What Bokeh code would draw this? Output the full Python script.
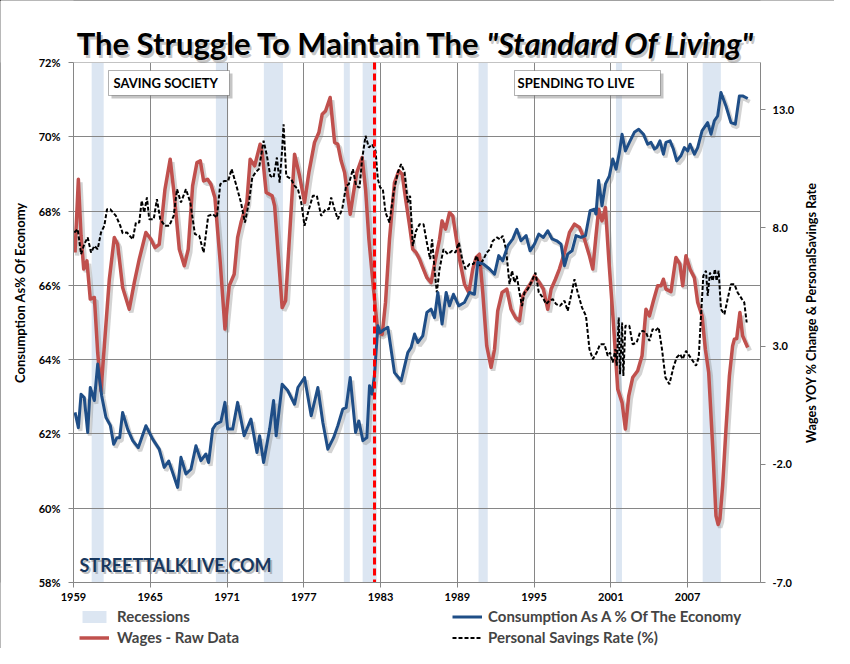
import math
from bokeh.plotting import figure
from bokeh.models import (Range1d, LinearAxis, FixedTicker, PrintfTickFormatter, Label,
                          BoxAnnotation, Legend, LegendItem, ColumnDataSource)
from bokeh.transform import dodge
from bokeh.embed import file_html
from bokeh.resources import INLINE

# ---------------- data ----------------
cons_year = [1959.12, 1959.38, 1959.59, 1959.84, 1960.11, 1960.31, 1960.63, 1960.89, 1961.20, 1961.54,
             1961.88, 1962.14, 1962.40, 1962.61, 1962.84, 1963.23, 1963.63, 1964.06, 1964.66, 1965.19,
             1965.70, 1966.09, 1966.44, 1966.75, 1967.14, 1967.40, 1967.79, 1968.18, 1968.57, 1968.96,
             1969.35, 1969.56, 1969.88, 1970.13, 1970.52, 1970.84, 1971.05, 1971.44, 1971.83, 1972.34,
             1972.87, 1973.34, 1973.55, 1973.86, 1974.33, 1974.64, 1974.84, 1975.31, 1975.76, 1976.28,
             1976.54, 1977.06, 1977.58, 1978.10, 1978.49, 1978.88, 1979.33, 1979.66, 1980.05, 1980.31,
             1980.63, 1981.05, 1981.30, 1981.62, 1981.93, 1982.14, 1982.34, 1982.53, 1982.79, 1982.97,
             1983.31, 1983.57, 1984.09, 1984.61, 1985.13, 1985.39, 1985.66, 1985.91, 1986.30, 1986.62,
             1986.95, 1987.22, 1987.48, 1987.81, 1988.13, 1988.39, 1988.70, 1989.12, 1989.56, 1989.95,
             1990.34, 1990.60, 1991.05, 1991.52, 1991.91, 1992.24, 1992.55, 1992.95, 1993.34, 1993.65,
             1993.98, 1994.38, 1994.69, 1995.03, 1995.37, 1995.73, 1996.07, 1996.41, 1996.77, 1997.11,
             1997.38, 1997.63, 1997.97, 1998.28, 1998.67, 1999.02, 1999.38, 1999.72, 1999.84, 2000.05,
             2000.31, 2000.58, 2000.89, 2001.15, 2001.41, 2001.67, 2001.88, 2002.14, 2002.45, 2002.84,
             2003.18, 2003.55, 2003.88, 2004.14, 2004.41, 2004.59, 2004.84, 2005.11, 2005.31, 2005.63,
             2005.89, 2006.15, 2006.48, 2006.75, 2007.01, 2007.19, 2007.53, 2007.79, 2008.13, 2008.57,
             2008.83, 2009.09, 2009.35, 2009.61, 2010.00, 2010.39, 2010.73, 2011.05, 2011.30, 2011.70]
cons_pct = [62.58, 62.17, 63.07, 62.98, 62.04, 63.25, 62.90, 63.88, 63.03, 62.44,
            62.23, 61.72, 61.90, 61.90, 62.58, 62.13, 61.82, 61.63, 62.22, 61.86,
            61.59, 61.10, 61.27, 60.96, 60.56, 61.37, 60.92, 61.05, 61.68, 61.28,
            61.46, 61.23, 62.13, 62.26, 62.33, 62.85, 62.13, 62.13, 62.85, 61.95,
            62.40, 61.50, 61.95, 61.23, 62.13, 62.90, 61.95, 63.34, 63.16, 62.80,
            63.25, 63.52, 62.49, 63.25, 62.31, 61.59, 61.90, 62.22, 62.67, 62.71,
            63.52, 62.04, 62.35, 61.82, 61.90, 63.30, 63.07, 63.60, 64.91, 64.73,
            64.82, 64.87, 63.65, 63.43, 64.19, 64.33, 64.69, 64.46, 64.64, 65.27,
            65.36, 65.13, 65.81, 64.96, 65.81, 65.45, 65.76, 65.45, 65.54, 65.81,
            65.76, 66.62, 66.57, 66.44, 66.30, 66.80, 66.66, 67.07, 67.25, 67.51,
            67.20, 67.34, 66.93, 67.11, 67.38, 67.29, 67.47, 67.25, 67.20, 67.11,
            66.53, 66.84, 66.93, 67.34, 67.29, 67.34, 68.01, 68.05, 67.92, 68.82,
            68.14, 68.73, 68.95, 69.40, 69.13, 69.58, 70.07, 69.62, 69.85, 70.12,
            70.20, 70.07, 69.80, 69.85, 69.67, 69.71, 69.89, 69.53, 69.85, 69.89,
            69.67, 69.35, 69.49, 69.71, 69.62, 69.80, 69.53, 69.71, 70.16, 70.38,
            70.07, 70.43, 70.56, 71.19, 70.83, 70.38, 70.34, 71.10, 71.10, 71.03]

wage_year = [1959.12, 1959.38, 1959.59, 1959.80, 1960.05, 1960.31, 1960.63, 1960.89, 1961.15, 1961.41,
             1961.80, 1962.19, 1962.45, 1962.84, 1963.36, 1963.75, 1964.14, 1964.66, 1965.05, 1965.37,
             1965.70, 1966.15, 1966.56, 1966.88, 1967.27, 1967.66, 1967.97, 1968.31, 1968.65, 1968.91,
             1969.17, 1969.48, 1969.74, 1970.05, 1970.47, 1970.84, 1971.17, 1971.56, 1971.83, 1972.09,
             1972.55, 1972.81, 1973.16, 1973.59, 1973.75, 1974.06, 1974.53, 1974.72, 1975.05, 1975.31,
             1975.58, 1975.84, 1976.28, 1976.67, 1977.06, 1977.40, 1977.84, 1978.18, 1978.44, 1978.70,
             1979.06, 1979.41, 1979.66, 1979.92, 1980.19, 1980.63, 1980.89, 1981.15, 1981.56, 1981.83,
             1982.09, 1982.45, 1982.79, 1983.13, 1983.39, 1983.70, 1984.09, 1984.43, 1984.69, 1985.00,
             1985.27, 1985.52, 1985.78, 1986.05, 1986.25, 1986.62, 1986.95, 1987.22, 1987.61, 1987.81,
             1988.08, 1988.39, 1988.65, 1988.91, 1989.22, 1989.56, 1989.90, 1990.21, 1990.47, 1990.73,
             1990.99, 1991.30, 1991.64, 1991.91, 1992.16, 1992.50, 1992.87, 1993.20, 1993.55, 1993.86,
             1994.12, 1994.43, 1994.77, 1995.03, 1995.42, 1995.73, 1996.07, 1996.33, 1996.67, 1996.98,
             1997.38, 1997.77, 1998.16, 1998.55, 1998.94, 1999.33, 1999.59, 1999.84, 2000.05, 2000.31,
             2000.58, 2000.84, 2001.20, 2001.54, 2001.88, 2002.14, 2002.40, 2002.71, 2003.10, 2003.44,
             2003.75, 2004.02, 2004.33, 2004.66, 2004.92, 2005.11, 2005.31, 2005.70, 2006.09, 2006.40,
             2006.62, 2006.87, 2007.19, 2007.53, 2007.79, 2008.13, 2008.39, 2008.65, 2008.96, 2009.22,
             2009.39, 2009.53, 2009.74, 2010.00, 2010.27, 2010.52, 2010.66, 2010.84, 2011.09, 2011.30,
             2011.70]
wage_yoy = [6.96, 10.06, 7.67, 6.26, 6.61, 4.99, 5.06, 2.73, 1.11, 3.01,
            5.83, 7.60, 7.31, 5.48, 4.56, 5.69, 6.68, 7.81, 7.52, 7.17,
            7.31, 9.64, 10.91, 9.36, 7.10, 6.40, 7.10, 9.78, 10.77, 10.84,
            9.99, 10.06, 9.85, 9.29, 6.54, 3.72, 5.55, 6.04, 7.60, 8.23,
            9.08, 10.91, 10.63, 11.54, 11.19, 9.50, 9.36, 8.94, 6.54, 4.63,
            4.92, 7.24, 11.12, 10.20, 9.08, 10.35, 11.62, 12.04, 12.81, 12.95,
            13.52, 11.62, 11.54, 10.84, 10.35, 8.58, 9.50, 10.35, 10.98, 9.64,
            7.52, 5.41, 3.58, 3.50, 4.85, 7.52, 9.92, 10.42, 10.27, 9.08,
            8.09, 7.10, 6.96, 6.68, 6.40, 5.90, 5.69, 6.47, 7.52, 8.30,
            7.95, 8.65, 8.51, 7.60, 6.54, 5.62, 5.27, 6.26, 6.75, 6.89,
            5.27, 3.01, 2.10, 2.87, 4.49, 5.27, 5.41, 4.56, 4.21, 4.07,
            5.13, 5.41, 5.69, 5.97, 5.69, 5.41, 4.56, 5.41, 5.83, 6.26,
            6.96, 7.81, 8.16, 8.02, 7.52, 6.82, 6.26, 7.67, 8.79, 8.30,
            8.86, 6.68, 4.00, 1.18, 0.61, -0.51, 0.90, 1.67, 1.96, 2.59,
            4.56, 4.28, 4.92, 5.55, 5.55, 5.83, 5.41, 5.30, 6.75, 6.47,
            5.55, 6.82, 6.26, 5.90, 4.85, 4.28, 2.87, 1.88, -1.22, -4.18,
            -4.55, -4.30, -2.90, -0.51, 1.74, 3.01, 3.29, 3.32, 4.42, 3.44,
            2.94]

sav_year = [1959.06, 1959.33, 1959.59, 1959.84, 1960.11, 1960.37, 1960.63, 1960.89, 1961.15, 1961.41,
            1961.62, 1961.88, 1962.32, 1962.66, 1962.84, 1963.18, 1963.63, 1963.88, 1964.14, 1964.33,
            1964.53, 1964.74, 1964.92, 1965.27, 1965.52, 1965.78, 1966.15, 1966.48, 1966.83, 1967.09,
            1967.40, 1967.79, 1968.13, 1968.49, 1968.83, 1969.17, 1969.53, 1969.88, 1970.21, 1970.47,
            1970.78, 1971.09, 1971.36, 1971.70, 1972.09, 1972.40, 1972.71, 1972.97, 1973.23, 1973.49,
            1973.86, 1974.12, 1974.38, 1974.64, 1974.90, 1975.11, 1975.31, 1975.42, 1975.63, 1976.02,
            1976.28, 1976.54, 1976.80, 1977.06, 1977.40, 1977.71, 1978.02, 1978.36, 1978.70, 1978.96,
            1979.14, 1979.41, 1979.66, 1980.00, 1980.31, 1980.52, 1980.84, 1981.09, 1981.36, 1981.56,
            1981.83, 1982.09, 1982.34, 1982.61, 1982.79, 1982.97, 1983.18, 1983.39, 1983.70, 1984.02,
            1984.35, 1984.61, 1984.88, 1985.13, 1985.31, 1985.52, 1985.78, 1986.05, 1986.36, 1986.62,
            1986.88, 1987.03, 1987.22, 1987.40, 1987.61, 1987.92, 1988.26, 1988.59, 1988.86, 1989.12,
            1989.38, 1989.64, 1989.95, 1990.27, 1990.52, 1990.73, 1991.05, 1991.30, 1991.56, 1991.77,
            1992.09, 1992.34, 1992.55, 1992.81, 1993.08, 1993.28, 1993.47, 1993.65, 1993.86, 1994.06,
            1994.25, 1994.51, 1994.77, 1995.11, 1995.37, 1995.68, 1995.94, 1996.20, 1996.46, 1996.72,
            1997.03, 1997.38, 1997.63, 1997.89, 1998.16, 1998.41, 1998.75, 1999.06, 1999.33, 1999.59,
            1999.90, 2000.16, 2000.50, 2000.76, 2000.94, 2001.15, 2001.36, 2001.46, 2001.62, 2001.72,
            2001.88, 2001.98, 2002.14, 2002.45, 2002.71, 2003.02, 2003.28, 2003.49, 2003.75, 2004.02,
            2004.27, 2004.48, 2004.74, 2005.00, 2005.27, 2005.58, 2005.89, 2006.15, 2006.41, 2006.62,
            2006.88, 2007.14, 2007.40, 2007.66, 2007.87, 2008.05, 2008.23, 2008.44, 2008.57, 2008.75,
            2008.96, 2009.14, 2009.27, 2009.43, 2009.61, 2009.88, 2010.13, 2010.39, 2010.66, 2010.91,
            2011.25, 2011.43, 2011.62]
sav_rate = [7.81, 7.95, 6.89, 7.31, 7.60, 6.96, 7.24, 7.10, 7.81, 8.09,
            8.79, 8.79, 8.51, 8.09, 7.78, 7.81, 7.52, 8.23, 8.23, 9.15,
            8.65, 9.29, 8.37, 8.37, 9.22, 8.37, 8.09, 8.09, 8.51, 9.64,
            9.08, 9.64, 9.08, 7.74, 7.67, 6.96, 8.51, 8.58, 8.44, 9.85,
            9.99, 9.99, 10.49, 9.85, 9.08, 8.23, 9.08, 10.13, 10.35, 10.49,
            11.69, 11.05, 10.20, 10.13, 10.98, 9.92, 11.33, 12.39, 10.20, 10.06,
            9.78, 9.64, 9.08, 8.09, 8.79, 9.36, 9.36, 8.51, 8.79, 8.79,
            9.29, 8.79, 8.37, 8.79, 9.78, 9.85, 10.49, 9.78, 9.71, 10.91,
            11.90, 11.40, 11.54, 11.26, 10.06, 9.71, 9.64, 8.65, 8.23, 9.50,
            10.35, 10.70, 10.35, 9.08, 9.36, 7.24, 7.88, 8.16, 8.16, 7.38,
            6.68, 7.52, 6.26, 5.27, 6.26, 7.10, 6.89, 7.03, 6.96, 7.38,
            6.68, 6.26, 6.47, 6.47, 6.82, 6.40, 6.68, 6.96, 7.10, 7.45,
            7.60, 7.52, 7.67, 7.10, 5.62, 6.19, 5.69, 5.97, 5.27, 4.70,
            5.27, 5.41, 5.69, 6.11, 5.27, 5.06, 4.78, 4.92, 4.99, 4.78,
            4.70, 4.92, 4.49, 5.13, 5.83, 5.27, 4.63, 4.28, 2.87, 2.45,
            2.73, 3.08, 3.08, 2.59, 2.73, 2.31, 2.87, 2.17, 4.21, 1.81,
            4.00, 1.74, 3.86, 3.86, 3.08, 3.15, 3.58, 3.65, 3.58, 3.22,
            3.72, 3.65, 3.79, 2.87, 1.67, 1.39, 2.10, 2.52, 2.66, 2.45,
            2.80, 2.59, 2.38, 2.17, 2.52, 4.28, 5.97, 6.19, 5.13, 6.11,
            5.76, 6.26, 5.76, 6.19, 4.56, 4.35, 4.99, 5.62, 5.62, 5.27,
            4.99, 4.85, 4.00]

rec_start = [1960.42, 1970.13, 1973.88, 1980.13, 1981.60, 1990.66, 2001.40, 2008.18]
rec_end = [1961.36, 1971.09, 1975.37, 1980.60, 1982.70, 1991.38, 2001.87, 2009.60]
marker_year = [1982.53]

x_ticks = [1959, 1965, 1971, 1977, 1983, 1989, 1995, 2001, 2007]
left_ticks = [58, 60, 62, 64, 66, 68, 70, 72]
right_ticks = [-7.0, -2.0, 3.0, 8.0, 13.0]

X_AXIS = (1959, 2012.7)
LEFT_AXIS = (58, 72)
RIGHT_AXIS = (-7, 15)

# ---------------- layout: the frame fills the whole canvas ----------------
W, H = 834, 648
PLOT_L, PLOT_R, PLOT_T, PLOT_B = 73, 760, 62, 582    # data area in canvas pixels


def extend(lo, hi, p0, p1, size, flip=False):
    scale = (hi - lo) / (p1 - p0)
    if flip:   # vertical: p0 is top (hi), p1 is bottom (lo)
        return (lo - (size - p1) * scale, hi + p0 * scale)
    return (lo - p0 * scale, hi + (size - p1) * scale)


X_RANGE = extend(*X_AXIS, PLOT_L, PLOT_R, W)
LEFT_RANGE = extend(*LEFT_AXIS, PLOT_T, PLOT_B, H, flip=True)
RIGHT_RANGE = extend(*RIGHT_AXIS, PLOT_T, PLOT_B, H, flip=True)

BLUE = "#1F4E87"
RED = "#C0504D"
BAND = "#DCE6F2"
GRID = "#868686"
FONT = "Lato"

p = figure(width=W, height=H, x_range=Range1d(*X_RANGE), y_range=Range1d(*LEFT_RANGE),
           output_backend="svg", toolbar_location=None, x_axis_location=None, y_axis_location=None,
           min_border=0, min_border_left=0, min_border_right=0, min_border_top=0, min_border_bottom=0)
p.extra_y_ranges = {"right": Range1d(*RIGHT_RANGE)}
p.background_fill_color = "white"
p.border_fill_color = "white"
p.outline_line_color = None
try:
    p.styles = {"outline": "1.5px solid black", "outline-offset": "-1.5px"}
except Exception:
    pass

xaxis = LinearAxis(ticker=FixedTicker(ticks=x_ticks), fixed_location=LEFT_AXIS[0], bounds=X_AXIS)
laxis = LinearAxis(ticker=FixedTicker(ticks=left_ticks), formatter=PrintfTickFormatter(format="%d%%"),
                   fixed_location=X_AXIS[0], bounds=LEFT_AXIS)
raxis = LinearAxis(y_range_name="right", ticker=FixedTicker(ticks=right_ticks),
                   formatter=PrintfTickFormatter(format="%.1f"), fixed_location=X_AXIS[1],
                   bounds=RIGHT_AXIS)
p.add_layout(xaxis, "below")
p.add_layout(laxis, "left")
p.add_layout(raxis, "right")

for ax in [xaxis, laxis, raxis]:
    ax.axis_line_color = GRID
    ax.major_tick_line_color = GRID
    ax.major_tick_out = 5
    ax.major_tick_in = 0
    ax.minor_tick_line_color = None
    ax.major_label_text_font = FONT
    ax.major_label_text_font_style = "bold"
    ax.major_label_text_font_size = "11px"
    ax.major_label_text_color = "black"
laxis.major_label_standoff = 8
raxis.major_label_standoff = 7
xaxis.major_label_standoff = 5

p.xgrid.grid_line_color = GRID
p.ygrid.grid_line_color = GRID
p.xgrid.ticker = FixedTicker(ticks=x_ticks)
p.ygrid.ticker = FixedTicker(ticks=left_ticks)

# white covers: keep the grid inside the data area
for kw in [dict(bottom=LEFT_AXIS[1]), dict(top=LEFT_AXIS[0]), dict(right=X_AXIS[0]), dict(left=X_AXIS[1])]:
    p.add_layout(BoxAnnotation(fill_color="white", fill_alpha=1, line_color=None, level="underlay", **kw))

# recession bands
rec_src = ColumnDataSource(dict(left=rec_start, right=rec_end,
                                bottom=[LEFT_AXIS[0]] * len(rec_start),
                                top=[LEFT_AXIS[1]] * len(rec_start)))
rec_r = p.quad(left="left", right="right", bottom="bottom", top="top", source=rec_src,
               fill_color=BAND, line_color=None, level="image")

cons_src = ColumnDataSource(dict(x=cons_year, y=cons_pct))
wage_src = ColumnDataSource(dict(x=wage_year, y=wage_yoy))
sav_src = ColumnDataSource(dict(x=sav_year, y=sav_rate))

# soft shadows
p.line(x=dodge("x", 0.16), y=dodge("y", -0.13), source=wage_src, y_range_name="right",
       line_color="#808080", line_alpha=0.35, line_width=4.5)
p.line(x=dodge("x", 0.16), y=dodge("y", -0.085), source=cons_src,
       line_color="#808080", line_alpha=0.35, line_width=4)

wage_r = p.line("x", "y", source=wage_src, y_range_name="right",
                line_color=RED, line_width=3.5, line_join="round")
sav_r = p.line("x", "y", source=sav_src, y_range_name="right",
               line_color="black", line_width=2, line_dash="4 2")
cons_r = p.line("x", "y", source=cons_src, line_color=BLUE, line_width=3, line_join="round")

# marker line (1982)
mk_src = ColumnDataSource(dict(x=marker_year, top=[LEFT_AXIS[1]], bottom=[LEFT_AXIS[0]]))
p.segment(x0="x", x1="x", y0="top", y1="bottom", source=mk_src, line_color="#FF0000",
          line_width=3, line_dash="7 4")


def sy(y_canvas):
    """canvas y (from top) -> frame screen units (from bottom)"""
    return H - y_canvas


def box(l, r, t, b, **kw):
    return BoxAnnotation(left=l, right=r, top=sy(t), bottom=sy(b), left_units="screen",
                         right_units="screen", top_units="screen", bottom_units="screen", **kw)


# text boxes
for (l, r, t, b, txt, tx) in [(108, 229, 70, 95, "SAVING SOCIETY", 113),
                               (514, 660, 70, 95, "SPENDING TO LIVE", 517)]:
    p.add_layout(box(l + 3, r + 3, t + 3, b + 3, fill_color="#7F7F7F", fill_alpha=0.45, line_color=None))
    p.add_layout(box(l, r, t, b, fill_color="white", fill_alpha=1, line_color="black", line_width=1))
    p.add_layout(Label(x=tx, y=sy((t + b) / 2), x_units="screen", y_units="screen", text=txt,
                       text_font=FONT, text_font_style="bold", text_font_size="13px",
                       text_baseline="middle", text_align="left", text_color="black"))

# watermark
for dx, dy, col, alpha in [(2, 2, "#808080", 0.5), (0, 0, "#17375E", 1.0)]:
    p.add_layout(Label(x=79 + dx, y=sy(575 + dy), x_units="screen", y_units="screen",
                       text="STREETTALKLIVE.COM", text_font=FONT, text_font_style="bold",
                       text_font_size="18px", text_color=col, text_alpha=alpha))

# title
TITLE_BASE = 42
for dx, dy, col, alpha in [(2, 3, "#808080", 0.45), (0, 0, "black", 1.0)]:
    p.add_layout(Label(x=480 + dx, y=sy(TITLE_BASE + dy), x_units="screen", y_units="screen",
                       text="The Struggle To Maintain The", text_font=FONT, text_font_style="bold",
                       text_font_size="31px", text_align="right", text_baseline="alphabetic",
                       text_color=col, text_alpha=alpha))
    p.add_layout(Label(x=486 + dx, y=sy(TITLE_BASE + dy), x_units="screen", y_units="screen",
                       text='"Standard Of Living"', text_font=FONT, text_font_style="bold italic",
                       text_font_size="31px", text_align="left", text_baseline="alphabetic",
                       text_color=col, text_alpha=alpha))

# axis titles
p.add_layout(Label(x=19.5, y=sy(292), x_units="screen", y_units="screen",
                   text="Consumption As% Of Economy", angle=math.pi / 2,
                   text_font=FONT, text_font_style="bold", text_font_size="13px",
                   text_align="center", text_baseline="middle", text_color="black"))
p.add_layout(Label(x=810, y=sy(312), x_units="screen", y_units="screen",
                   text="Wages YOY % Change & PersonalSavings Rate", angle=math.pi / 2,
                   text_font=FONT, text_font_style="bold", text_font_size="12.7px",
                   text_align="center", text_baseline="middle", text_color="black"))

# legends (two columns)
common = dict(padding=0, margin=0, spacing=3, border_line_color=None, background_fill_alpha=0,
              label_text_font=FONT, label_text_font_style="bold", label_text_font_size="15px",
              glyph_width=30, glyph_height=15, label_height=15)
leg1 = Legend(items=[LegendItem(label="Recessions", renderers=[rec_r]),
                     LegendItem(label="Wages - Raw Data", renderers=[wage_r])],
              location=(79, 2), label_standoff=8, **common)
leg2 = Legend(items=[LegendItem(label="Consumption As A % Of The Economy", renderers=[cons_r]),
                     LegendItem(label="Personal Savings Rate (%)", renderers=[sav_r])],
              location=(452, 2), label_standoff=6, **common)
p.add_layout(leg1)
p.add_layout(leg2)

open("out.html", "w").write(file_html(p, INLINE))
